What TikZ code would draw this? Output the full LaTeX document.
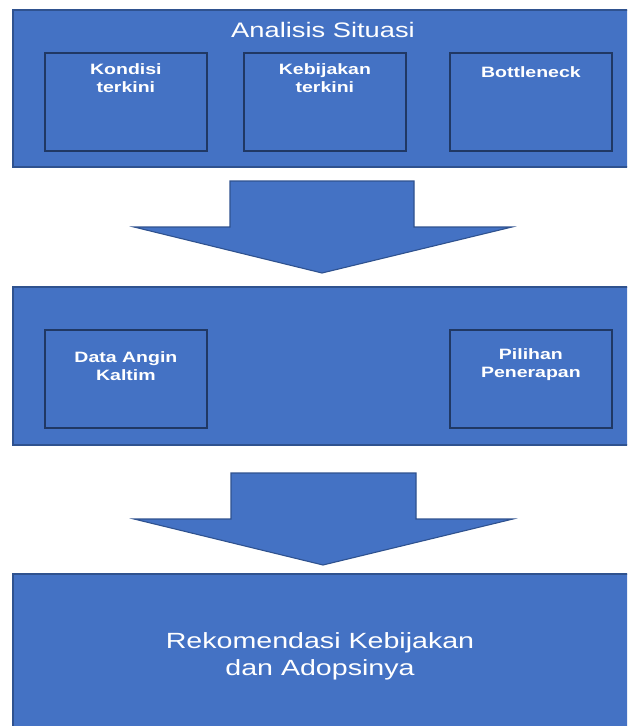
\documentclass[tikz,border=0pt]{standalone}
\usepackage{fontspec}
\setsansfont{Liberation Sans}[FakeStretch=1.3]
\usepackage{tikz}
\usetikzlibrary{positioning}

\definecolor{boxblue}{HTML}{4472C4}
\definecolor{rimblue}{HTML}{2F528F}
\definecolor{deepblue}{HTML}{203864}

\tikzset{
    panel/.style={draw=rimblue, line width=1.5pt, fill=boxblue, anchor=north west, inner sep=0pt},
    subbox/.style={draw=deepblue, line width=1.8pt, fill=boxblue, anchor=north west,
        minimum width=162pt, minimum height=98pt, inner sep=0pt},
    subtext/.style={text=white, font=\sffamily\bfseries\fontsize{15}{18}\selectfont, align=center, inner sep=0pt},
    bigarrow/.style={draw=rimblue, line width=1.1pt, fill=boxblue, line join=miter}
}

\begin{document}
\begin{tikzpicture}[x=1pt, y=-1pt]
    \useasboundingbox (0,0) rectangle (627,726);
    \clip (0,0) rectangle (627,726);
    % Analisis Situasi
    \node[panel, minimum width=630pt, minimum height=157pt] (situasi) at (12,9) {};
    \coordinate (situasiTop) at (323,9);
    \node[text=white, font=\sffamily\fontsize{21}{25}\selectfont, inner sep=0pt,
        below=13pt of situasiTop] (situasiText) {Analisis Situasi};
    \node[subbox] (kondisi) at (44,52) {};
    \node[subbox] (kebijakan) at (243,52) {};
    \node[subbox] (bottleneck) at (449,52) {};
    \node[subtext, below=11pt of kondisi.north] (kondisiText) {Kondisi\\terkini};
    \node[subtext, below=11pt of kebijakan.north] (kebijakanText) {Kebijakan\\terkini};
    \node[subtext, below=14pt of bottleneck.north] (bottleneckText) {Bottleneck};
    % first arrow
    \draw[bigarrow] (230,181) -- (414,181) -- (414,227) -- (512,227) -- (322,273)
        -- (134,227) -- (230,227) -- cycle;
    % Data and options
    \node[panel, minimum width=630pt, minimum height=158pt] (data) at (12,286) {};
    \node[subbox] (angin) at (44,329) {};
    \node[subbox] (pilihan) at (449,329) {};
    \node[subtext, below=22pt of angin.north] (anginText) {Data Angin\\Kaltim};
    \node[subtext, below=19pt of pilihan.north] (pilihanText) {Pilihan\\Penerapan};
    % second arrow
    \draw[bigarrow] (231,473) -- (416,473) -- (416,519) -- (513,519) -- (323,565)
        -- (134,519) -- (231,519) -- cycle;
    % Rekomendasi
    \node[panel, minimum width=630pt, minimum height=170pt] (rekomendasi) at (12,573) {};
    \coordinate (rekomendasiTop) at (320,573);
    \node[text=white, font=\sffamily\fontsize{22}{27}\selectfont, align=center, inner sep=0pt,
        below=59pt of rekomendasiTop] (rekomendasiText) {Rekomendasi Kebijakan\\dan Adopsinya};
\end{tikzpicture}
\end{document}
